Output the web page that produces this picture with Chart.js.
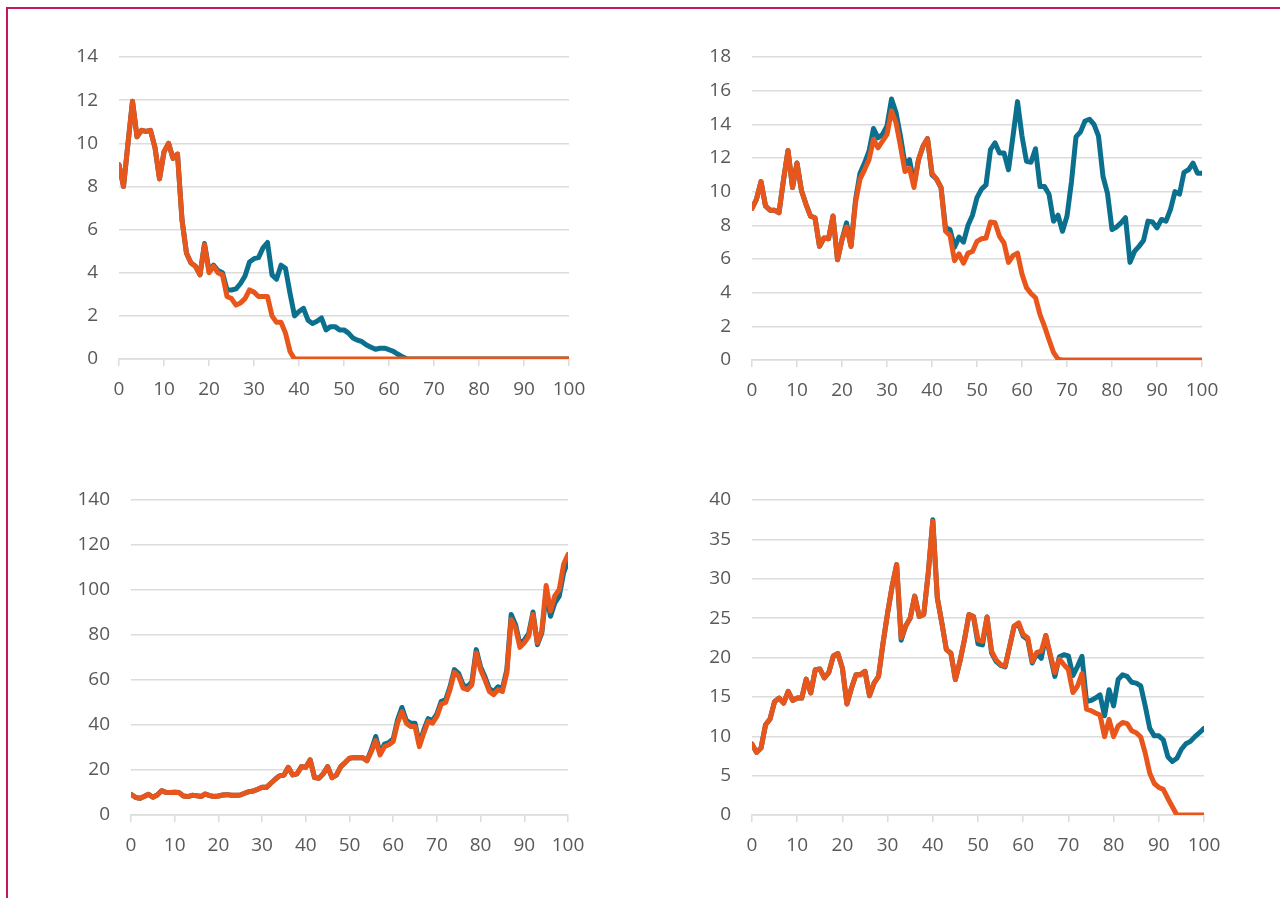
<!DOCTYPE html>
<html>
<head>
<meta charset="utf-8">
<script src="https://cdn.jsdelivr.net/npm/chart.js@4.4.1/dist/chart.umd.min.js"></script>
<style>
  html, body { margin: 0; padding: 0; background: #fff; width: 1280px; height: 898px; overflow: hidden; }
  .frame { position: absolute; left: 6px; top: 7px; width: 1400px; height: 1000px; border: 2px solid #c4175f; box-sizing: border-box; }
  .panel { position: absolute; }
</style>
</head>
<body>
<div class="frame"></div>
<div class="panel" id="p1"><canvas id="c1"></canvas></div>
<div class="panel" id="p2"><canvas id="c2"></canvas></div>
<div class="panel" id="p3"><canvas id="c3"></canvas></div>
<div class="panel" id="p4"><canvas id="c4"></canvas></div>
<script>
// ── x categories (0..100) ──
const xSteps = Array.from({ length: 101 }, (_, i) => i);

// ── top-left ──
const tlOrange = [9.0, 8.0, 10.0, 11.95, 10.3, 10.6, 10.55, 10.6, 9.8, 8.35,
  9.6, 10.0, 9.3, 9.5, 6.45, 4.9, 4.45, 4.3, 3.9, 5.3,
  4.0, 4.3, 4.0, 3.9, 2.9, 2.8, 2.5, 2.6, 2.8, 3.2,
  3.1, 2.9, 2.9, 2.9, 2.0, 1.7, 1.7, 1.2, 0.35, 0,
  0, 0, 0, 0, 0, 0, 0, 0, 0, 0,
  0, 0, 0, 0, 0, 0, 0, 0, 0, 0,
  0, 0, 0, 0, 0, 0, 0, 0, 0, 0,
  0, 0, 0, 0, 0, 0, 0, 0, 0, 0,
  0, 0, 0, 0, 0, 0, 0, 0, 0, 0,
  0, 0, 0, 0, 0, 0, 0, 0, 0, 0, 0];
const tlBlue = [9.0, 8.0, 10.0, 11.95, 10.3, 10.6, 10.55, 10.6, 9.8, 8.35,
  9.6, 10.0, 9.3, 9.5, 6.45, 4.9, 4.45, 4.3, 3.9, 5.35,
  4.1, 4.35, 4.1, 4.0, 3.2, 3.2, 3.25, 3.5, 3.85, 4.5,
  4.65, 4.7, 5.15, 5.4, 3.9, 3.7, 4.35, 4.2, 3.05, 2.0,
  2.2, 2.35, 1.8, 1.65, 1.75, 1.9, 1.35, 1.5, 1.5, 1.35,
  1.35, 1.2, 0.97, 0.87, 0.8, 0.65, 0.55, 0.45, 0.5, 0.5,
  0.43, 0.35, 0.22, 0.1, 0, 0, 0, 0, 0, 0,
  0, 0, 0, 0, 0, 0, 0, 0, 0, 0,
  0, 0, 0, 0, 0, 0, 0, 0, 0, 0,
  0, 0, 0, 0, 0, 0, 0, 0, 0, 0, 0];

// ── top-right ──
const trOrange = [9.0, 9.55, 10.6, 9.15, 8.9, 8.9, 8.75, 10.7, 12.45, 10.25,
  11.7, 10.05, 9.25, 8.55, 8.45, 6.75, 7.25, 7.2, 8.55, 5.95,
  7.15, 7.9, 6.75, 9.35, 10.75, 11.3, 11.9, 13.1, 12.6, 13.0,
  13.4, 14.8, 14.1, 12.7, 11.2, 11.4, 10.25, 11.9, 12.7, 13.15,
  11.1, 10.75, 10.25, 7.65, 7.4, 5.9, 6.3, 5.75, 6.35, 6.45,
  7.05, 7.2, 7.25, 8.2, 8.15, 7.35, 6.95, 5.8, 6.2, 6.35,
  5.1, 4.3, 3.95, 3.7, 2.7, 2.0, 1.2, 0.45, 0.05, 0,
  0, 0, 0, 0, 0, 0, 0, 0, 0, 0,
  0, 0, 0, 0, 0, 0, 0, 0, 0, 0,
  0, 0, 0, 0, 0, 0, 0, 0, 0, 0, 0];
const trBlue = [9.0, 9.55, 10.6, 9.15, 8.9, 8.9, 8.75, 10.7, 12.45, 10.25,
  11.7, 10.05, 9.25, 8.55, 8.45, 6.75, 7.25, 7.2, 8.55, 5.95,
  7.15, 8.15, 6.75, 9.5, 11.1, 11.7, 12.4, 13.75, 13.2, 13.4,
  13.9, 15.5, 14.7, 13.3, 11.6, 11.9, 10.45, 11.9, 12.7, 13.15,
  11.0, 10.75, 10.25, 7.85, 7.75, 6.7, 7.3, 7.0, 8.0, 8.6,
  9.65, 10.15, 10.4, 12.5, 12.9, 12.3, 12.3, 11.3, 13.3, 15.35,
  13.3, 11.8, 11.75, 12.55, 10.3, 10.3, 9.85, 8.25, 8.6, 7.65,
  8.55, 10.6, 13.25, 13.55, 14.2, 14.3, 14.0, 13.3, 10.9, 9.9,
  7.75, 7.9, 8.15, 8.45, 5.8, 6.45, 6.75, 7.1, 8.25, 8.2,
  7.85, 8.35, 8.25, 8.95, 10.0, 9.85, 11.15, 11.3, 11.7, 11.1, 11.1];

// ── bottom-left ──
const blOrange = [9.2, 7.9, 7.4, 8.2, 9.2, 7.9, 8.9, 10.8, 10.1, 9.95,
  10.1, 9.95, 8.45, 8.2, 8.75, 8.6, 8.2, 9.35, 8.6, 8.2,
  8.45, 8.9, 9.05, 8.75, 8.75, 8.9, 9.65, 10.4, 10.7, 11.4,
  12.3, 12.3, 14.1, 15.9, 17.4, 17.8, 21.2, 17.8, 18.3, 21.5,
  21.2, 24.5, 16.6, 16.3, 18.3, 21.5, 16.6, 17.7, 21.5, 23.3,
  25.2, 25.5, 25.5, 25.5, 24.2, 28.2, 33.1, 26.7, 30.4, 31.2,
  32.7, 40.8, 46.0, 40.8, 39.3, 39.3, 30.4, 36.4, 41.6, 40.8,
  43.8, 49.3, 50.0, 55.7, 63.4, 61.6, 56.4, 55.7, 57.9, 72.0,
  64.6, 60.1, 54.9, 53.5, 55.7, 54.9, 63.1, 86.9, 83.1, 74.5,
  76.5, 79.4, 89.1, 76.5, 81.7, 102.0, 90.6, 97.5, 100.2, 111.4, 115.8];
const blBlue = [9.2, 7.9, 7.4, 8.2, 9.2, 7.9, 8.9, 10.8, 10.1, 9.95,
  10.1, 9.95, 8.45, 8.2, 8.75, 8.6, 8.2, 9.35, 8.6, 8.2,
  8.45, 8.9, 9.05, 8.75, 8.75, 8.9, 9.65, 10.4, 10.7, 11.4,
  12.3, 12.3, 14.1, 15.9, 17.4, 17.8, 21.2, 17.8, 18.3, 21.5,
  21.2, 24.5, 16.6, 16.3, 18.3, 21.5, 16.6, 17.7, 21.5, 23.3,
  25.2, 25.5, 25.5, 25.5, 24.2, 29.0, 34.9, 27.5, 31.5, 32.2,
  33.8, 42.3, 47.8, 42.0, 40.8, 40.8, 31.5, 37.8, 42.8, 42.0,
  45.0, 50.5, 51.2, 57.0, 64.6, 62.8, 57.8, 57.0, 59.2, 73.5,
  65.8, 61.4, 56.2, 54.8, 57.0, 56.2, 64.5, 89.1, 84.6, 75.9,
  77.8, 80.6, 90.2, 75.7, 80.8, 98.7, 88.3, 94.3, 97.3, 107.6, 112.8];

// ── bottom-right ──
const brOrange = [9.0, 7.95, 8.5, 11.45, 12.2, 14.4, 14.85, 14.2, 15.7, 14.55,
  14.85, 14.85, 17.25, 15.5, 18.45, 18.55, 17.4, 18.1, 20.2, 20.5,
  18.65, 14.1, 16.1, 17.8, 17.8, 18.25, 15.15, 16.75, 17.6, 21.85,
  25.65, 29.05, 31.8, 22.5, 24.0, 25.0, 27.8, 25.2, 25.45, 30.75,
  37.3, 27.55, 24.4, 21.0, 20.55, 17.2, 19.5, 22.25, 25.45, 25.2,
  22.25, 22.05, 25.15, 20.8, 19.7, 19.1, 18.9, 21.4, 24.0, 24.4,
  22.9, 22.5, 19.5, 20.65, 20.8, 22.8, 20.35, 18.1, 19.8, 19.1,
  18.45, 15.55, 16.35, 17.95, 13.45, 13.25, 12.95, 12.7, 9.95, 12.15,
  9.95, 11.3, 11.75, 11.6, 10.7, 10.45, 9.9, 7.85, 5.3, 4.0,
  3.5, 3.25, 2.1, 1.05, 0, 0, 0, 0, 0, 0, 0];
const brBlue = [9.0, 7.95, 8.5, 11.45, 12.2, 14.4, 14.85, 14.2, 15.7, 14.55,
  14.85, 14.85, 17.25, 15.5, 18.45, 18.55, 17.4, 18.1, 20.2, 20.5,
  18.65, 14.1, 16.1, 17.8, 17.8, 18.25, 15.15, 16.75, 17.6, 21.85,
  25.65, 29.05, 31.8, 22.2, 24.0, 25.0, 27.8, 25.2, 25.45, 30.75,
  37.5, 27.55, 24.4, 21.0, 20.55, 17.2, 19.5, 22.25, 25.45, 25.2,
  21.75, 21.6, 25.15, 20.6, 19.5, 19.0, 18.8, 21.4, 24.0, 24.2,
  22.7, 22.3, 19.3, 20.5, 19.9, 22.8, 20.2, 17.6, 20.1, 20.35,
  20.2, 17.7, 18.85, 20.15, 14.4, 14.55, 14.85, 15.25, 12.6, 15.9,
  13.85, 17.2, 17.8, 17.6, 16.85, 16.75, 16.4, 13.85, 11.0, 10.05,
  10.05, 9.55, 7.4, 6.8, 7.2, 8.35, 9.05, 9.35, 9.95, 10.45, 11.0];

const BLUE = '#0b6f8e';
const ORANGE = '#e8561b';
const GRID = '#dcdcdc';
const TEXT = '#595959';

const Y_W = 80, X_H = 60, PAD_T = 20, PAD_R = 30;

function makeChart(id, box, orange, blue, yMax, yStep) {
  const panel = document.getElementById('p' + id);
  panel.style.left = (box.l - Y_W) + 'px';
  panel.style.top = (box.t - PAD_T) + 'px';
  panel.style.width = (box.r - box.l + Y_W + PAD_R) + 'px';
  panel.style.height = (box.b - box.t + PAD_T + X_H) + 'px';

  const pts = arr => arr.map((v, i) => ({ x: xSteps[i], y: v }));
  const line = (data, color) => ({
    data: pts(data),
    borderColor: color,
    borderWidth: 5,
    pointRadius: 0,
    borderCapStyle: 'round',
    borderJoinStyle: 'round',
    tension: 0,
    fill: false
  });

  new Chart(document.getElementById('c' + id), {
    type: 'line',
    data: { datasets: [line(orange, ORANGE), line(blue, BLUE)] }, // first dataset is drawn on top
    options: {
      responsive: true,
      maintainAspectRatio: false,
      animation: false,
      layout: { padding: { top: PAD_T, right: PAD_R, left: 0, bottom: 0 } },
      plugins: { legend: { display: false }, tooltip: { enabled: false } },
      scales: {
        x: {
          type: 'linear', min: 0, max: 100,
          ticks: { stepSize: 10, color: TEXT, padding: 12, font: { family: 'Open Sans', size: 19 } },
          grid: { drawOnChartArea: false, drawTicks: true, tickLength: 7, color: GRID, lineWidth: 1.5 },
          border: { display: true, color: GRID, width: 1.5 },
          afterFit: s => { s.height = X_H; s.paddingLeft = 0; s.paddingRight = 0; }
        },
        y: {
          min: 0, max: yMax,
          ticks: { stepSize: yStep, color: TEXT, padding: 21, font: { family: 'Open Sans', size: 19 } },
          grid: { color: GRID, lineWidth: 1.5, drawTicks: false },
          border: { display: false },
          afterFit: s => { s.width = Y_W; s.paddingTop = 0; s.paddingBottom = 0; }
        }
      }
    }
  });
}

makeChart(1, { l: 119, r: 569, t: 57, b: 359 }, tlOrange, tlBlue, 14, 2);
makeChart(2, { l: 752, r: 1202, t: 57, b: 360 }, trOrange, trBlue, 18, 2);
makeChart(3, { l: 131, r: 568, t: 500, b: 815 }, blOrange, blBlue, 140, 20);
makeChart(4, { l: 752, r: 1204, t: 500, b: 815 }, brOrange, brBlue, 40, 5);
</script>
</body>
</html>
